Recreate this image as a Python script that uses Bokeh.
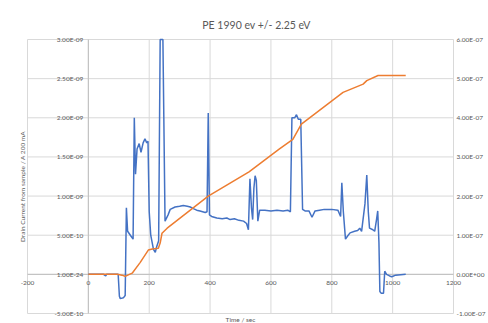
import math
from bokeh.plotting import figure
from bokeh.models import Range1d
from bokeh.core.properties import value
from bokeh.embed import file_html
from bokeh.resources import INLINE

# ---- data ----
x_ticks = [-200, 0, 200, 400, 600, 800, 1000, 1200]
x_labels = ["-200", "0", "200", "400", "600", "800", "1000", "1200"]
left_ticks = [-5e-10, 0.0, 5e-10, 1e-9, 1.5e-9, 2e-9, 2.5e-9, 3e-9]
left_labels = ["-5.00E-10", "1.00E-24", "5.00E-10", "1.00E-09", "1.50E-09", "2.00E-09", "2.50E-09", "3.00E-09"]
right_ticks = [-1e-7, 0.0, 1e-7, 2e-7, 3e-7, 4e-7, 5e-7, 6e-7]
right_labels = ["-1.00E-07", "0.00E+00", "1.00E-07", "2.00E-07", "3.00E-07", "4.00E-07", "5.00E-07", "6.00E-07"]

title_text = "PE 1990 ev +/- 2.25 eV"
x_title = "Time / sec"
y_title = "Drain Current from sample / A 200 mA"

drain_time = [0, 50, 57, 60, 95, 98, 102, 105, 115, 121, 125, 129, 138, 147, 151, 155, 160, 167, 173, 180,
              186, 192, 196, 200, 205, 214, 220, 225, 231, 236, 245, 252, 262, 269, 285, 300, 312, 325, 335,
              345, 356, 367, 384, 390, 394, 398, 405, 422, 440, 455, 466, 480, 495, 510, 520, 526, 531, 536,
              540, 544, 548, 552, 557, 563, 580, 600, 620, 640, 655, 664, 669, 678, 684, 690, 698, 704, 712,
              725, 735, 745, 760, 775, 800, 820, 829, 833, 838, 845, 852, 860, 875, 885, 892, 898, 909, 915,
              920, 924, 935, 941, 947, 951, 955, 958, 962, 970, 974, 980, 990, 997, 1010, 1043]
drain_current = [0, 0, -2e-11, 0, 0, 0, -2.8e-10, -3.1e-10, -3.0e-10, -2.7e-10, 8.5e-10, 5.5e-10, 5.0e-10,
                 4.5e-10, 2.0e-9, 1.28e-9, 1.6e-9, 1.67e-9, 1.56e-9, 1.68e-9, 1.73e-9, 1.68e-9, 1.7e-9, 8e-10,
                 5.0e-10, 3.2e-10, 2.8e-10, 3.6e-10, 4.3e-10, 3.0e-9, 3.0e-9, 6.8e-10, 7.6e-10, 8.3e-10,
                 8.6e-10, 8.7e-10, 8.8e-10, 8.7e-10, 8.6e-10, 8.4e-10, 8.2e-10, 8.1e-10, 7.9e-10, 8.0e-10,
                 2.06e-9, 7.6e-10, 7.4e-10, 7.2e-10, 7.1e-10, 7.2e-10, 7.0e-10, 7.1e-10, 6.9e-10, 6.8e-10,
                 6.5e-10, 5.7e-10, 1.22e-9, 8.5e-10, 7.0e-10, 1.1e-9, 1.26e-9, 1.2e-9, 6.8e-10, 8.2e-10,
                 8.2e-10, 8.1e-10, 8.2e-10, 8.1e-10, 8.2e-10, 8.0e-10, 2.0e-9, 2.0e-9, 2.04e-9, 1.98e-9,
                 1.98e-9, 8.3e-10, 8.1e-10, 8.1e-10, 7.3e-10, 8.1e-10, 8.2e-10, 8.3e-10, 8.3e-10, 8.2e-10,
                 7.4e-10, 1.17e-9, 8e-10, 4.5e-10, 4.9e-10, 5.3e-10, 5.5e-10, 5.6e-10, 5.9e-10, 5.5e-10,
                 9e-10, 1.27e-9, 8e-10, 5.9e-10, 5.7e-10, 5.5e-10, 7e-10, 8.1e-10, 4e-10, -2.2e-10, -2.4e-10,
                 -2.4e-10, 4e-11, 0, -2e-11, -3e-11, -1e-11, 0]

energy_time = [0, 95, 110, 121, 135, 144, 170, 197, 210, 230, 236, 242, 259, 394, 528, 627, 672, 700, 837,
               903, 915, 952, 1043]
energy_value = [0, 0, -2e-9, -5e-9, 0, 3e-9, 3.0e-8, 6.2e-8, 6.5e-8, 6.7e-8, 8.0e-8, 1.05e-7, 1.18e-7, 2.0e-7,
                2.62e-7, 3.2e-7, 3.45e-7, 3.84e-7, 4.65e-7, 4.86e-7, 4.95e-7, 5.08e-7, 5.08e-7]

# ---- layout / styling ----
W, H = 488, 323
ML, MR, MT, MB = 27, 35, 39, 10          # pixel margins around the plot area
GRID = "#d9d9d9"
AXIS = "#bfbfbf"
TXT = "#595959"
FONT = value("Lato")
TICK_FS = value("6.5px")

x0, x1 = x_ticks[0], x_ticks[-1]
y0, y1 = left_ticks[0], left_ticks[-1]
r0, r1 = right_ticks[0], right_ticks[-1]
xs = (x1 - x0) / (W - ML - MR)
ys = (y1 - y0) / (H - MT - MB)
rs = (r1 - r0) / (H - MT - MB)

p = figure(width=W, height=H, output_backend="svg", toolbar_location=None,
           x_axis_location=None, y_axis_location=None, min_border=0,
           x_range=Range1d(x0 - ML * xs, x1 + MR * xs),
           y_range=Range1d(y0 - MB * ys, y1 + MT * ys))
p.extra_y_ranges = {"right": Range1d(r0 - MB * rs, r1 + MT * rs)}
p.outline_line_color = None
p.background_fill_color = "white"
p.border_fill_color = "white"
p.xgrid.visible = False
p.ygrid.visible = False

# gridlines limited to the plot area
p.segment(x0=x_ticks, y0=[y0] * len(x_ticks), x1=x_ticks, y1=[y1] * len(x_ticks),
          line_color=GRID, line_width=1)
p.segment(x0=[x0] * len(left_ticks), y0=left_ticks, x1=[x1] * len(left_ticks), y1=left_ticks,
          line_color=GRID, line_width=1)
# axis lines crossing at zero
p.segment(x0=[0], y0=[y0], x1=[0], y1=[y1], line_color=AXIS, line_width=1)
p.segment(x0=[x0], y0=[0], x1=[x1], y1=[0], line_color=AXIS, line_width=1)

# tick labels
p.text(x=x_ticks, y=[0.0] * len(x_ticks), text=x_labels, y_offset=9, text_align="center",
       text_baseline="middle", text_font=FONT, text_font_size=TICK_FS, text_color=TXT)
p.text(x=[0] * len(left_ticks), y=left_ticks, text=left_labels, x_offset=-5, text_align="right",
       text_baseline="middle", text_font=FONT, text_font_size=TICK_FS, text_color=TXT)
p.text(x=[x1] * len(right_ticks), y=right_ticks, text=right_labels, x_offset=3, text_align="left",
       text_baseline="middle", text_font=FONT, text_font_size=TICK_FS, text_color=TXT,
       y_range_name="right")

# titles
xm = (x0 + x1) / 2
ym = (y0 + y1) / 2
p.text(x=[xm], y=[y1], text=[title_text], x_offset=16, y_offset=-15, text_align="center",
       text_baseline="middle", text_font=FONT, text_font_size=value("10.5px"), text_color=TXT)
p.text(x=[xm], y=[y0], text=[x_title], y_offset=6, text_align="center",
       text_baseline="middle", text_font=FONT, text_font_size=TICK_FS, text_color=TXT)
p.text(x=[x0], y=[ym], text=[y_title], x_offset=-5, y_offset=10, angle=math.pi / 2,
       text_align="center", text_baseline="middle", text_font=FONT, text_font_size=TICK_FS,
       text_color=TXT)

# series
p.line(drain_time, drain_current, line_color="#4472C4", line_width=1.5)
p.line(energy_time, energy_value, line_color="#ED7D31", line_width=1.5, y_range_name="right")

open("out.html", "w").write(file_html(p, INLINE))
